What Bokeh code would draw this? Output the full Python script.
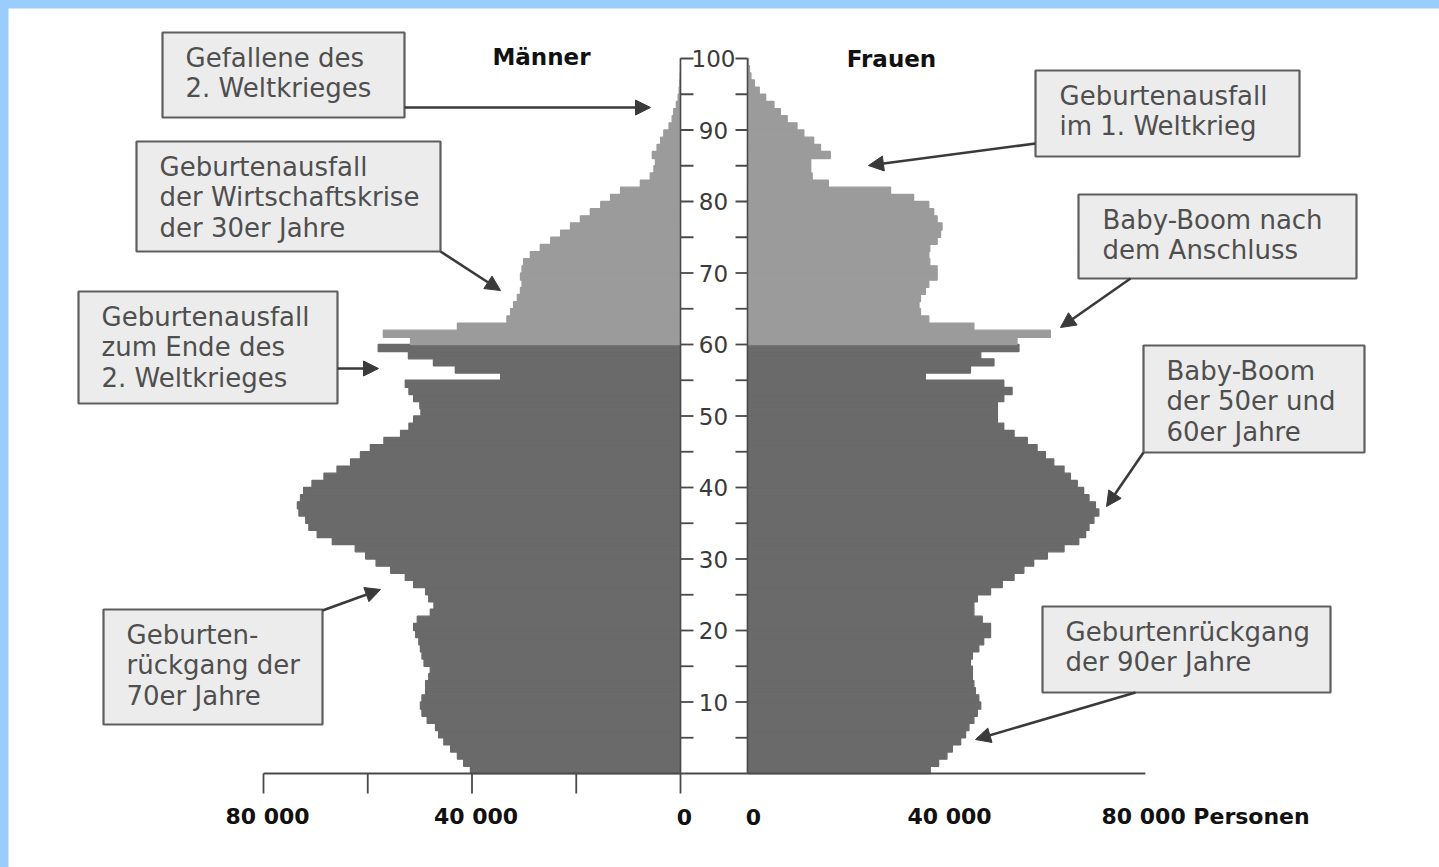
from bokeh.plotting import figure
from bokeh.models import Range1d, ColumnDataSource, Arrow, NormalHead
from bokeh.core.properties import value
from bokeh.embed import file_html
from bokeh.resources import INLINE

# ---------------- data (thousands of persons, ages 0..99) ----------------
ages = list(range(100))
male = [40.3, 41.6, 42.8, 44.1, 45.4, 46.4, 47.0, 48.6, 49.6, 49.9,
        49.6, 48.9, 48.9, 48.3, 48.0, 49.2, 49.6, 49.9, 50.2, 50.8,
        51.2, 50.5, 48.0, 47.3, 48.3, 48.9, 51.2, 52.8, 55.6, 58.4,
        60.4, 62.4, 66.8, 69.7, 71.3, 71.9, 73.2, 73.5, 72.9, 72.3,
        70.7, 68.4, 65.9, 63.3, 61.4, 59.5, 56.9, 53.7, 52.1, 51.2,
        49.8, 50.0, 51.2, 52.1, 52.8, 34.5, 43.2, 47.4, 52.2, 58.0,
        51.8, 57.0, 42.8, 33.3, 32.6, 32.0, 31.3, 30.7, 30.4, 30.7,
        30.4, 30.1, 28.8, 26.9, 24.9, 23.0, 21.1, 19.2, 17.3, 15.3,
        13.4, 11.5, 7.7, 5.8, 5.1, 4.8, 5.4, 4.5, 3.8, 3.2,
        2.2, 1.6, 1.3, 0.8, 0.45, 0.25, 0.15, 0.1, 0.05, 0.03]
female = [37.3, 39.0, 40.7, 41.8, 43.5, 44.5, 45.2, 46.2, 46.9, 47.6,
          47.2, 46.5, 46.2, 45.9, 45.9, 45.5, 45.9, 47.2, 48.2, 49.6,
          49.6, 47.9, 46.2, 46.2, 46.9, 49.6, 52.0, 54.4, 56.4, 58.4,
          61.2, 64.6, 67.6, 69.0, 69.7, 70.7, 71.7, 71.0, 69.7, 68.6,
          67.3, 65.9, 64.6, 62.5, 60.8, 59.1, 57.1, 54.4, 52.3, 51.0,
          51.0, 51.0, 52.3, 54.0, 52.3, 36.3, 45.5, 50.3, 47.6, 55.4,
          55.0, 61.8, 46.2, 37.0, 35.3, 35.0, 35.3, 36.3, 37.0, 38.7,
          38.7, 37.2, 37.0, 37.2, 38.7, 39.4, 39.7, 38.7, 38.0, 37.0,
          33.9, 29.2, 16.5, 13.2, 12.9, 12.9, 16.9, 14.9, 13.5, 11.5,
          10.1, 8.1, 6.7, 5.4, 3.7, 2.4, 1.4, 0.7, 0.4, 0.2]
old_age_from = 60

age_ticks = list(range(5, 101, 5))
age_labels = list(range(10, 101, 10))
male_ticks = [-80, -60, -40, -20, 0]
male_tick_labels = ["80 000", "", "40 000", "", "0"]
female_tick_labels = ["0", "40 000", "80 000 Personen"]
female_tick_pos = [0, 40, 80]

notes = [
    ["Gefallene des", "2. Weltkrieges"],
    ["Geburtenausfall", "der Wirtschaftskrise", "der 30er Jahre"],
    ["Geburtenausfall", "zum Ende des", "2. Weltkrieges"],
    ["Geburten-", "rückgang der", "70er Jahre"],
    ["Geburtenausfall", "im 1. Weltkrieg"],
    ["Baby-Boom nach", "dem Anschluss"],
    ["Baby-Boom", "der 50er und", "60er Jahre"],
    ["Geburtenrückgang", "der 90er Jahre"],
]

# ---------------- layout (page pixels) ----------------
OFF = 8                       # page padding (top/left)
W, H = 1439 - OFF, 867 - OFF
PX0_M, SX_M = 680.0, 5.2125   # male: page x of 0, px per 1000
PX0_F, SX_F = 747.0, 4.9      # female
PY0, SY = 773.0, 7.15         # age 0 page y, px per year


def mx(px):
    return (px - PX0_M) / SX_M


def fx(px):
    return (px - PX0_F) / SX_F


def ay(py):
    return (PY0 - py) / SY


# box: (left, top, right, bottom), text-left, first line y, arrow (x0,y0,x1,y1)
note_layout = [
    ((162, 32, 404, 117), 185, 57, (404, 107, 650, 107)),
    ((136, 141, 440, 251), 159, 166, (440, 251, 500, 290)),
    ((78, 291, 337, 403), 101, 316, (337, 368, 378, 368)),
    ((103, 609, 322, 724), 126, 634, (322, 610, 380, 589)),
    ((1035, 70, 1299, 156), 1059, 95, (1035, 143, 868, 165)),
    ((1078, 194, 1356, 278), 1102, 219, (1130, 278, 1060, 327)),
    ((1143, 345, 1364, 452), 1166, 370, (1143, 452, 1106, 506)),
    ((1042, 606, 1330, 692), 1065, 631, (1135, 692, 975, 739)),
]

p = figure(width=W, height=H, output_backend="svg", toolbar_location=None,
           x_range=Range1d(mx(OFF), mx(OFF + W)), y_range=Range1d(ay(OFF + H), ay(OFF)),
           x_axis_location=None, y_axis_location=None, min_border=0,
           background_fill_color="white", border_fill_color="white",
           outline_line_color=None)
p.extra_x_ranges = {"f": Range1d(fx(OFF), fx(OFF + W))}
p.grid.visible = False

DARK, LIGHT = "#6a6a6a", "#9b9b9b"
cols = [LIGHT if a >= old_age_from else DARK for a in ages]
src = ColumnDataSource(dict(
    bottom=ages, top=[a + 1 for a in ages],
    mleft=[-v for v in male], mright=[0] * len(ages),
    fleft=[0] * len(ages), fright=female, color=cols))
p.quad(left="mleft", right="mright", bottom="bottom", top="top", source=src,
       fill_color="color", line_color="color", line_width=1.3)
p.quad(left="fleft", right="fright", bottom="bottom", top="top", source=src,
       fill_color="color", line_color="color", line_width=1.3, x_range_name="f")

AX = "#4a4a4a"
# central age axis lines
p.segment(x0=[0], y0=[0], x1=[0], y1=[100], line_color=AX, line_width=1.5)
p.segment(x0=[0], y0=[0], x1=[0], y1=[100], line_color=AX, line_width=1.5,
          x_range_name="f")
tick_len_m = 13 / SX_M
tick_len_f = 12 / SX_F
p.segment(x0=[0] * len(age_ticks), y0=age_ticks, x1=[tick_len_m] * len(age_ticks),
          y1=age_ticks, line_color=AX, line_width=1.8)
p.segment(x0=[0] * len(age_ticks), y0=age_ticks, x1=[-tick_len_f] * len(age_ticks),
          y1=age_ticks, line_color=AX, line_width=1.8, x_range_name="f")
p.text(x=[mx(713)] * len(age_labels), y=age_labels, text=[str(a) for a in age_labels],
       text_font=value("DejaVu Sans"), text_font_size="23px", text_color="#3a3a3a",
       text_align="center", text_baseline="middle")

# bottom axis
p.segment(x0=[-80], y0=[0], x1=[mx(PX0_F)], y1=[0], line_color=AX, line_width=2)
p.segment(x0=[0], y0=[0], x1=[81.2], y1=[0], line_color=AX, line_width=2,
          x_range_name="f")
p.segment(x0=male_ticks, y0=[0] * 5, x1=male_ticks, y1=[ay(PY0 + 20)] * 5,
          line_color=AX, line_width=1.8)
lab_y = ay(816)
p.text(x=male_ticks, y=[lab_y] * 5, text=male_tick_labels, x_offset=4,
       text_font=value("DejaVu Sans"), text_font_size="22px", text_font_style="bold",
       text_color="#111111", text_align="center", text_baseline="middle")
p.text(x=female_tick_pos[:2], y=[lab_y] * 2, text=female_tick_labels[:2],
       x_offset=6, text_font=value("DejaVu Sans"), text_font_size="22px",
       text_font_style="bold", text_color="#111111", text_align="center",
       text_baseline="middle", x_range_name="f")
p.text(x=[fx(1101)], y=[lab_y], text=[female_tick_labels[2]],
       text_font=value("DejaVu Sans"), text_font_size="22px", text_font_style="bold",
       text_color="#111111", text_align="left", text_baseline="middle",
       x_range_name="f")

# headers
p.text(x=[mx(541), mx(891)], y=[ay(56), ay(58)], text=["Männer", "Frauen"],
       text_font=value("DejaVu Sans"), text_font_size="23px", text_font_style="bold",
       text_color="#111111", text_align="center", text_baseline="middle")

# annotation boxes
bl, bt, br, bb = [], [], [], []
tx, ty, tt = [], [], []
for lines, (box, txl, ty0, arr) in zip(notes, note_layout):
    l, t, r, b = box
    bl.append(mx(l)); br.append(mx(r)); bt.append(ay(t)); bb.append(ay(b))
    for i, line in enumerate(lines):
        tx.append(mx(txl)); ty.append(ay(ty0 + 30.5 * i)); tt.append(line)
p.quad(left=bl, right=br, top=bt, bottom=bb, fill_color="#ececec",
       line_color="#5e5e5e", line_width=2.2)
p.text(x=tx, y=ty, text=tt, text_font=value("DejaVu Sans"), text_font_size="26px",
       text_color="#4f4f4f", text_align="left", text_baseline="middle")

for (_, _, _, (x0, y0, x1, y1)) in note_layout:
    p.add_layout(Arrow(end=NormalHead(size=15, fill_color="#3a3a3a", line_color="#3a3a3a"),
                       x_start=mx(x0), y_start=ay(y0), x_end=mx(x1), y_end=ay(y1),
                       line_color="#3a3a3a", line_width=2.6))

html = file_html(p, INLINE)
i = html.rfind("<body")
j = html.find(">", i)
html = (html[:i] + '<body style="margin:0;padding:%dpx 0 0 %dpx;'
        'background-color:#99ccff;overflow:hidden;box-sizing:border-box;">' % (OFF, OFF)
        + html[j + 1:])
open("out.html", "w").write(html)
